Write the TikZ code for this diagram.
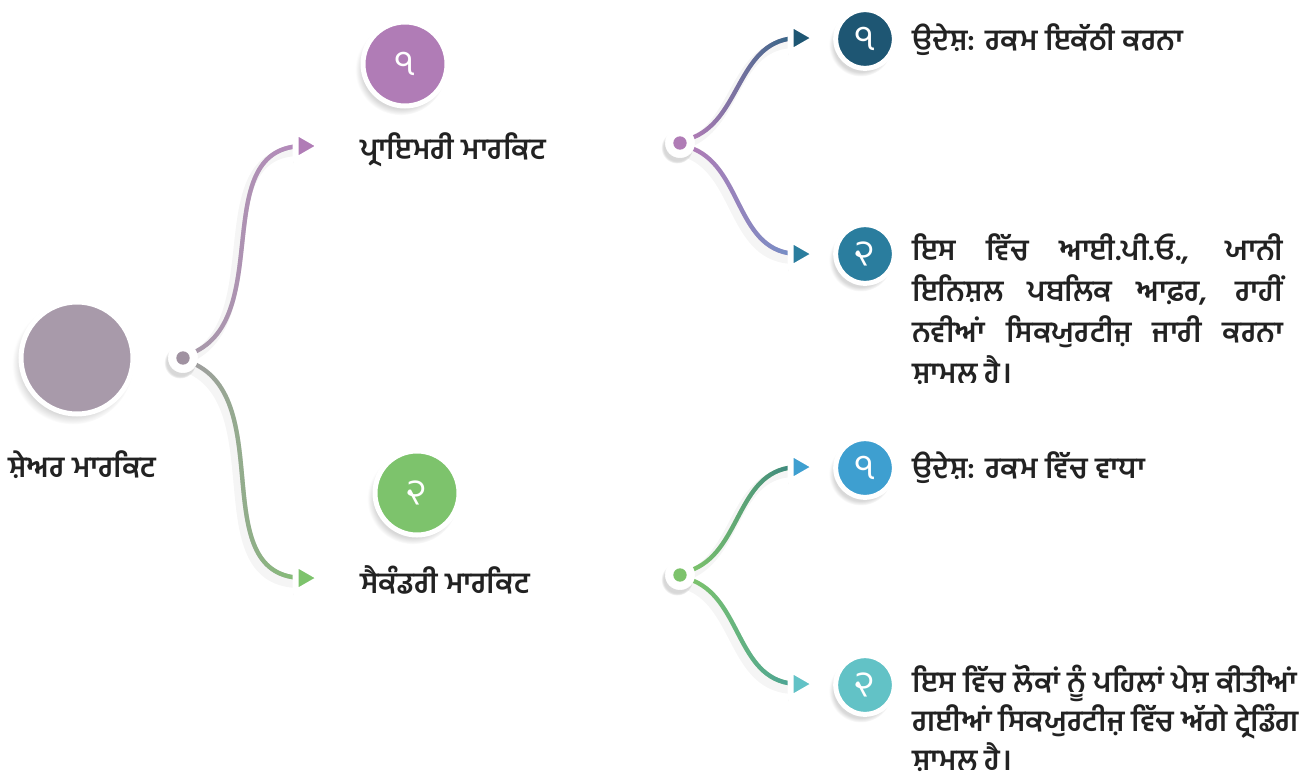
\documentclass[tikz,border=0pt]{standalone}
\usepackage{fontspec}
\newfontfamily\gurmukhi[Script=Gurmukhi, UprightFont=* SemiBold]{Hind Jalandhar}
\newfontfamily\gurdigit[Script=Gurmukhi]{Hind Jalandhar}
\usetikzlibrary{shapes.geometric,shadows,fadings}

\definecolor{rootc}{RGB}{168,154,170}
\definecolor{primc}{RGB}{176,124,182}
\definecolor{secc}{RGB}{125,195,108}
\definecolor{pac}{RGB}{30,86,115}
\definecolor{pbc}{RGB}{42,125,158}
\definecolor{sac}{RGB}{62,159,208}
\definecolor{sbc}{RGB}{98,194,198}
\definecolor{txtc}{RGB}{34,34,34}
\definecolor{primend}{RGB}{182,136,190}
\definecolor{secstart}{RGB}{160,158,160}
\definecolor{secend}{RGB}{130,192,115}
\definecolor{paend}{RGB}{40,100,130}
\definecolor{pbend}{RGB}{110,145,200}
\definecolor{saend}{RGB}{55,130,130}
\definecolor{sbend}{RGB}{70,160,155}

\tikzfading[name=tipfade, left color=transparent!100, middle color=transparent!75, right color=transparent!0]
\pgfdeclarelayer{back}
\pgfsetlayers{back,main}

\tikzset{
  ball/.style={circle, draw=white, line width=3.75pt, inner sep=0pt,
    circular drop shadow={shadow xshift=-3pt, shadow yshift=-4pt, opacity=.3, shadow scale=1.08}},
  knot/.style={circle, fill=white, draw=white, inner sep=0pt, minimum size=22pt,
    circular drop shadow={shadow xshift=-2pt, shadow yshift=-3pt, opacity=.3, shadow scale=1.1}},
  tip/.style={regular polygon, regular polygon sides=3, shape border rotate=-90, draw=white,
    line width=4.5pt, line join=round, inner sep=0pt, minimum size=25pt,
    drop shadow={shadow xshift=-1.5pt, shadow yshift=-2pt, opacity=.12}},
  conn/.style 2 args={line width=3.2pt, line cap=round, draw=#1,
    preaction={draw=black, opacity=.04, line width=7pt, transform canvas={shift={(-3pt,-4pt)}}},
    postaction={draw=#2, path fading=tipfade}},
  label/.style={font=\gurmukhi\fontsize{22}{30.75}\selectfont, text=txtc, inner sep=0pt},
  digit/.style={font=\gurdigit\fontsize{27}{27}\selectfont, text=white}
}

\begin{document}
\begin{tikzpicture}[x=0.75pt,y=0.75pt,yscale=-1,xscale=1]
\begin{pgfonlayer}{back}
\path[use as bounding box, fill=white] (0,0) rectangle (1313,775);
\end{pgfonlayer}

%Shape: Circle
\draw (77,358) node (root) [ball, fill=rootc, minimum size=84pt] {};
%Shape: Circle
\draw (183,358) node (rootdot) [knot] {};
\fill [rootc!95!black] (rootdot) circle (5pt);
%Shape: Circle
\draw (405,64) node (prim) [ball, fill=primc, minimum size=63pt, digit] {੧};
\draw (417,493) node (sec) [ball, fill=secc, minimum size=63pt, digit] {੨};
%Shape: Circle
\draw (680,143) node (primdot) [knot] {};
\fill [primc] (primdot) circle (5pt);
\draw (680,575) node (secdot) [knot] {};
\fill [secc] (secdot) circle (5pt);
%Shape: Circle
\draw (865,39) node (pa) [ball, fill=pac, minimum size=44pt, digit] {੧};
\draw (865,254) node (pb) [ball, fill=pbc, minimum size=44pt, digit] {੨};
\draw (865,468) node (sa) [ball, fill=sac, minimum size=44pt, digit] {੧};
\draw (865,685) node (sb) [ball, fill=sbc, minimum size=44pt, digit] {੨};

%Shape: Triangle
\draw (304,146) node (primtip) [tip, fill=primc] {};
\draw (304,578) node (sectip) [tip, fill=secc] {};
\draw (799,38) node (patip) [tip, fill=pac] {};
\draw (799,254) node (pbtip) [tip, fill=pbc] {};
\draw (799,467) node (satip) [tip, fill=sac] {};
\draw (799,684) node (sbtip) [tip, fill=sbc] {};

%Curve Lines
\begin{pgfonlayer}{back}
\draw [conn={rootc}{primend}] (rootdot) to[out=-35, in=180] (primtip.center);
\draw [conn={secstart}{secend}] (rootdot) to[out=35, in=180] (sectip.center);
\draw [conn={primc}{paend}] (primdot) to[out=-35, in=180] (patip.center);
\draw [conn={primc}{pbend}] (primdot) to[out=35, in=180] (pbtip.center);
\draw [conn={secc}{saend}] (secdot) to[out=-35, in=180] (satip.center);
\draw [conn={secc}{sbend}] (secdot) to[out=35, in=180] (sbtip.center);
\end{pgfonlayer}

% Text Node
\draw (8,465) node (rootlbl) [label, anchor=west] {ਸ਼ੇਅਰ ਮਾਰਕਿਟ};
% Text Node
\draw (360,150) node (primlbl) [label, anchor=west] {ਪ੍ਰਾਇਮਰੀ ਮਾਰਕਿਟ};
% Text Node
\draw (360,580) node (seclbl) [label, anchor=west] {ਸੈਕੰਡਰੀ ਮਾਰਕਿਟ};
% Text Node
\draw (912,40) node (patxt) [label, anchor=west] {ਉਦੇਸ਼: ਰਕਮ ਇਕੱਠੀ ਕਰਨਾ};
% Text Node
\draw (912,233) node (pbtxt) [label, anchor=north west, text width=278pt, align=justify]
  {ਇਸ ਵਿੱਚ ਆਈ.ਪੀ.ਓ., ਯਾਨੀ\linebreak ਇਨਿਸ਼ਲ ਪਬਲਿਕ ਆਫ਼ਰ, ਰਾਹੀਂ\linebreak ਨਵੀਆਂ ਸਿਕਯੁਰਟੀਜ਼ ਜਾਰੀ ਕਰਨਾ\linebreak ਸ਼ਾਮਲ ਹੈ।};
% Text Node
\draw (912,468) node (satxt) [label, anchor=west] {ਉਦੇਸ਼: ਰਕਮ ਵਿੱਚ ਵਾਧਾ};
% Text Node
\draw (912,665) node (sbtxt) [label, anchor=north west, align=left, font=\gurmukhi\fontsize{22}{29}\selectfont]
  {ਇਸ ਵਿੱਚ ਲੋਕਾਂ ਨੂੰ ਪਹਿਲਾਂ ਪੇਸ਼ ਕੀਤੀਆਂ\\ ਗਈਆਂ ਸਿਕਯੁਰਟੀਜ਼ ਵਿੱਚ ਅੱਗੇ ਟ੍ਰੇਡਿੰਗ\\ ਸ਼ਾਮਲ ਹੈ।};

\end{tikzpicture}
\end{document}
